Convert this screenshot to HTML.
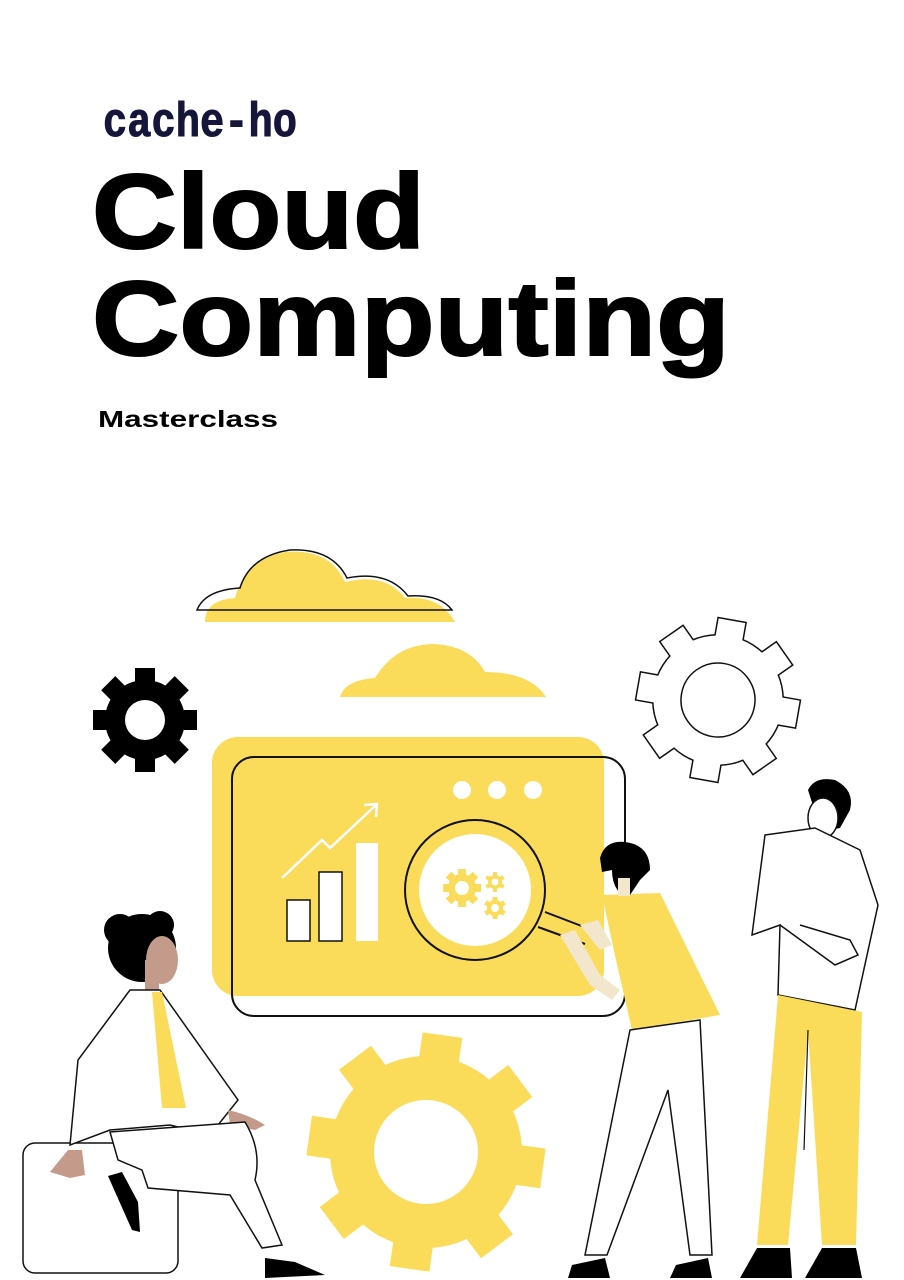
<!DOCTYPE html>
<html><head><meta charset="utf-8"><style>
html,body{margin:0;padding:0;background:#fff;}
svg{display:block;}
</style></head><body>
<svg width="904" height="1280" viewBox="0 0 904 1280" xmlns="http://www.w3.org/2000/svg">
<rect width="904" height="1280" fill="#fff"/>
<!-- logo -->
<text x="103" y="136" font-family="Liberation Mono, monospace" font-weight="bold" font-size="48" fill="#16163a" stroke="#16163a" stroke-width="1" textLength="194" lengthAdjust="spacingAndGlyphs">cache-ho</text>
<!-- title -->
<text x="92" y="248" font-family="Liberation Sans, sans-serif" font-weight="bold" font-size="106" fill="#000" stroke="#000" stroke-width="2" textLength="333" lengthAdjust="spacingAndGlyphs">Cloud</text>
<text x="92" y="355" font-family="Liberation Sans, sans-serif" font-weight="bold" font-size="106" fill="#000" stroke="#000" stroke-width="2" textLength="638" lengthAdjust="spacingAndGlyphs">Computing</text>
<text x="98" y="427" font-family="Liberation Sans, sans-serif" font-weight="bold" font-size="23" fill="#000" textLength="180" lengthAdjust="spacingAndGlyphs">Masterclass</text>

<!-- clouds -->
<path d="M205 622 Q205 600 235 598 Q245 560 285 552 Q330 548 345 582 Q385 572 405 598 Q440 595 455 622 Z" fill="#fbdc5a"/>
<path d="M197 610 Q205 590 240 588 Q250 556 290 550 Q332 548 347 578 Q388 570 408 596 Q440 594 452 610 Z" fill="none" stroke="#111" stroke-width="1.5"/>
<path d="M340 697 Q345 680 375 678 Q395 645 432 644 Q470 645 485 672 Q530 672 546 697 Z" fill="#fbdc5a"/>

<!-- black gear -->
<g transform="translate(145,720)" fill="#000">
<circle r="40"/>
<rect x="-10" y="-52" width="20" height="104"/>
<rect x="-10" y="-52" width="20" height="104" transform="rotate(45)"/>
<rect x="-10" y="-52" width="20" height="104" transform="rotate(90)"/>
<rect x="-10" y="-52" width="20" height="104" transform="rotate(135)"/>
<circle r="20" fill="#fff"/>
</g>

<!-- outline gear -->
<g transform="translate(718,700) rotate(10)">
<g fill="#111">
<circle r="66"/>
<rect x="-15" y="-82" width="30" height="164"/>
<rect x="-15" y="-82" width="30" height="164" transform="rotate(45)"/>
<rect x="-15" y="-82" width="30" height="164" transform="rotate(90)"/>
<rect x="-15" y="-82" width="30" height="164" transform="rotate(135)"/>
</g>
<g fill="#fff">
<circle r="64.5"/>
<rect x="-13.5" y="-80.5" width="27" height="161"/>
<rect x="-13.5" y="-80.5" width="27" height="161" transform="rotate(45)"/>
<rect x="-13.5" y="-80.5" width="27" height="161" transform="rotate(90)"/>
<rect x="-13.5" y="-80.5" width="27" height="161" transform="rotate(135)"/>
</g>
<circle r="37" fill="none" stroke="#111" stroke-width="1.5"/>
</g>

<!-- screen -->
<rect x="212" y="737" width="392" height="259" rx="26" fill="#fbdc5a"/>
<rect x="232" y="757" width="393" height="259" rx="22" fill="none" stroke="#111" stroke-width="2"/>
<circle cx="462" cy="790" r="9" fill="#fff"/>
<circle cx="497" cy="790" r="9" fill="#fff"/>
<circle cx="533" cy="790" r="9" fill="#fff"/>
<rect x="287" y="900" width="23" height="41" fill="#fff" stroke="#111" stroke-width="1.5"/>
<rect x="319" y="872" width="23" height="69" fill="#fff" stroke="#111" stroke-width="1.5"/>
<rect x="356" y="843" width="22" height="98" fill="#fff"/>
<polyline points="282,878 322,840 330,848 376,805" fill="none" stroke="#fff" stroke-width="2.5"/>
<polyline points="364,805 377,804 376,817" fill="none" stroke="#fff" stroke-width="2.5"/>
<!-- magnifier -->
<circle cx="475" cy="890" r="70" fill="none" stroke="#111" stroke-width="2"/>
<circle cx="475" cy="890" r="56" fill="#fff"/>
<line x1="545" y1="912" x2="592" y2="930" stroke="#111" stroke-width="2"/>
<line x1="538" y1="927" x2="585" y2="944" stroke="#111" stroke-width="2"/>
<g transform="translate(462,888)" fill="#fbdc5a">
<circle r="14"/><rect x="-4" y="-19" width="8" height="38"/><rect x="-4" y="-19" width="8" height="38" transform="rotate(45)"/><rect x="-4" y="-19" width="8" height="38" transform="rotate(90)"/><rect x="-4" y="-19" width="8" height="38" transform="rotate(135)"/><circle r="7" fill="#fff"/></g>
<g transform="translate(495,882)" fill="#fbdc5a">
<circle r="7"/><rect x="-2" y="-10" width="4" height="20"/><rect x="-2" y="-10" width="4" height="20" transform="rotate(60)"/><rect x="-2" y="-10" width="4" height="20" transform="rotate(120)"/><circle r="3.5" fill="#fff"/></g>
<g transform="translate(495,908)" fill="#fbdc5a">
<circle r="8"/><rect x="-2.5" y="-11" width="5" height="22"/><rect x="-2.5" y="-11" width="5" height="22" transform="rotate(60)"/><rect x="-2.5" y="-11" width="5" height="22" transform="rotate(120)"/><circle r="4" fill="#fff"/></g>

<!-- yellow gear -->
<g transform="translate(426,1152) rotate(8)" fill="#fbdc5a">
<circle r="96"/>
<rect x="-20" y="-118" width="40" height="236"/>
<rect x="-20" y="-118" width="40" height="236" transform="rotate(45)"/>
<rect x="-20" y="-118" width="40" height="236" transform="rotate(90)"/>
<rect x="-20" y="-118" width="40" height="236" transform="rotate(135)"/>
<circle r="52" fill="#fff"/>
</g>

<!-- left person -->
<rect x="23" y="1143" width="155" height="130" rx="12" fill="#fff" stroke="#111" stroke-width="1.5"/>
<circle cx="142" cy="948" r="34" fill="#000"/>
<circle cx="120" cy="930" r="16" fill="#000"/>
<circle cx="160" cy="925" r="14" fill="#000"/>
<ellipse cx="162" cy="960" rx="16" ry="24" fill="#c49a8a"/>
<rect x="145" y="960" width="14" height="30" fill="#c49a8a"/>
<path d="M130 990 L160 990 L238 1100 L210 1135 L170 1125 L110 1130 L70 1145 L78 1060 Z" fill="#fff" stroke="#111" stroke-width="1.5"/>
<path d="M152 992 L162 992 L186 1108 L162 1108 Z" fill="#fbdc5a"/>
<path d="M228 1110 Q250 1115 265 1125 L255 1130 L230 1125 Z" fill="#c49a8a"/>
<path d="M110 1132 L245 1122 Q262 1150 255 1180 L282 1245 L262 1248 L230 1195 L148 1188 L142 1170 L118 1160 Z" fill="#fff" stroke="#111" stroke-width="1.5"/>
<path d="M68 1150 L82 1150 L85 1175 L70 1178 L50 1172 Z" fill="#c49a8a"/>
<path d="M108 1176 L122 1172 L138 1202 L140 1232 L132 1230 Z" fill="#000"/>
<path d="M265 1258 L295 1262 L325 1275 L265 1278 Z" fill="#000"/>

<!-- middle person -->
<path d="M602 895 L660 893 L720 1015 L632 1030 L616 960 Z" fill="#fbdc5a"/>
<path d="M560 935 L575 930 L600 975 L620 990 L612 1000 L590 985 Z" fill="#f2e6cc"/>
<path d="M580 925 L598 920 L612 945 L600 950 Z" fill="#f2e6cc"/>
<path d="M600 858 Q605 840 625 842 Q650 845 650 870 L640 880 L630 895 L620 893 Q612 885 612 870 L602 872 Z" fill="#000"/>
<rect x="618" y="878" width="12" height="18" fill="#f2e6cc"/>
<path d="M630 1030 L700 1020 L712 1255 L690 1255 L668 1090 L607 1255 L585 1255 Z" fill="#fff" stroke="#111" stroke-width="1.5"/>
<path d="M572 1265 L605 1258 L610 1278 L568 1278 Z" fill="#000"/>
<path d="M676 1265 L708 1258 L712 1278 L670 1278 Z" fill="#000"/>

<!-- right person -->
<path d="M808 790 Q815 776 835 780 Q855 790 850 810 L840 828 L830 830 L815 812 Z" fill="#000"/>
<ellipse cx="823" cy="818" rx="15" ry="20" fill="#fff" stroke="#111" stroke-width="1.5"/>
<path d="M765 835 L815 828 L860 850 L878 905 L855 1010 L778 995 L780 925 L752 935 Z" fill="#fff" stroke="#111" stroke-width="1.5"/>
<path d="M780 925 L835 965 L858 955 L850 940 L800 925" fill="none" stroke="#111" stroke-width="1.5"/>
<path d="M778 995 L862 1012 L856 1245 L822 1245 L808 1030 L788 1245 L757 1245 Z" fill="#fbdc5a"/>
<path d="M808 1030 L804 1150" stroke="#111" stroke-width="1.2"/>
<path d="M757 1248 L790 1248 L792 1278 L740 1278 Z" fill="#000"/>
<path d="M822 1248 L856 1248 L862 1278 L805 1278 Z" fill="#000"/>
</svg>
</body></html>
